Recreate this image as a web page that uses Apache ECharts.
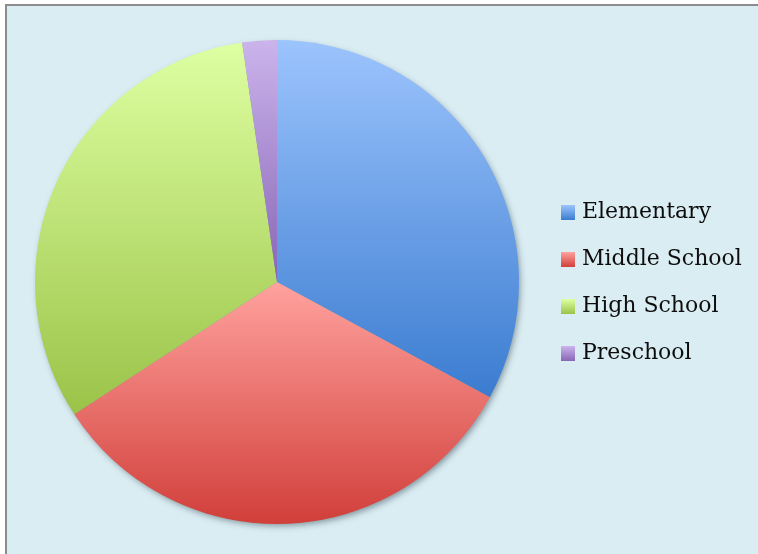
<!DOCTYPE html>
<html>
<head>
<meta charset="utf-8">
<script src="https://cdn.jsdelivr.net/npm/echarts@6/dist/echarts.min.js"></script>
<style>
  html, body { margin: 0; padding: 0; background: #ffffff; }
  #chart { width: 758px; height: 554px; }
</style>
</head>
<body>
<div id="chart"></div>
<script>
// School levels and their shares of enrollment (percent)
const categories = ['Elementary', 'Middle School', 'High School', 'Preschool'];
const shares = [32.9, 32.9, 31.9, 2.3];
// Top and bottom colours of each slice's vertical gradient
const topColors = ['#9cc4fd', '#ffa29e', '#deffa2', '#cbb4ec'];
const bottomColors = ['#3b7cd0', '#d13f3a', '#9bc348', '#8865b6'];

function grad(i) {
  return new echarts.graphic.LinearGradient(0, 0, 0, 1, [
    { offset: 0, color: topColors[i] },
    { offset: 1, color: bottomColors[i] }
  ]);
}

const center = [277, 282];
const radius = 242;

const chart = echarts.init(document.getElementById('chart'), null, { renderer: 'canvas' });
chart.setOption({
  animation: false,
  backgroundColor: '#ffffff',
  graphic: [{
    type: 'rect',
    z: -10,
    silent: true,
    shape: { x: 6, y: 5, width: 800, height: 600 },
    style: { fill: '#daedf3', stroke: '#8c8c8c', lineWidth: 2 }
  }],
  legend: {
    orient: 'vertical',
    left: 561,
    top: 199,
    padding: 0,
    itemWidth: 14,
    itemHeight: 15,
    itemGap: 20,
    icon: 'rect',
    textStyle: {
      fontFamily: 'DejaVu Serif',
      fontSize: 22,
      lineHeight: 27,
      color: '#0d0d0d',
      padding: [0, 0, 0, 2]
    },
    data: categories
  },
  series: [
    {
      // soft drop shadow under the whole disc
      type: 'pie',
      silent: true,
      z: 1,
      center: center,
      radius: radius - 1,
      label: { show: false },
      labelLine: { show: false },
      emphasis: { disabled: true },
      tooltip: { show: false },
      itemStyle: {
        color: '#7f9aa6',
        shadowBlur: 6,
        shadowOffsetX: 2,
        shadowOffsetY: 3,
        shadowColor: 'rgba(40, 60, 70, 0.5)'
      },
      data: [{ name: '_shadow', value: 1 }]
    },
    {
      type: 'pie',
      z: 2,
      center: center,
      radius: radius,
      startAngle: 90,
      clockwise: true,
      label: { show: false },
      labelLine: { show: false },
      emphasis: { disabled: true },
      data: categories.map((name, i) => ({
        name: name,
        value: shares[i],
        itemStyle: { color: grad(i) }
      }))
    }
  ]
});
</script>
</body>
</html>
